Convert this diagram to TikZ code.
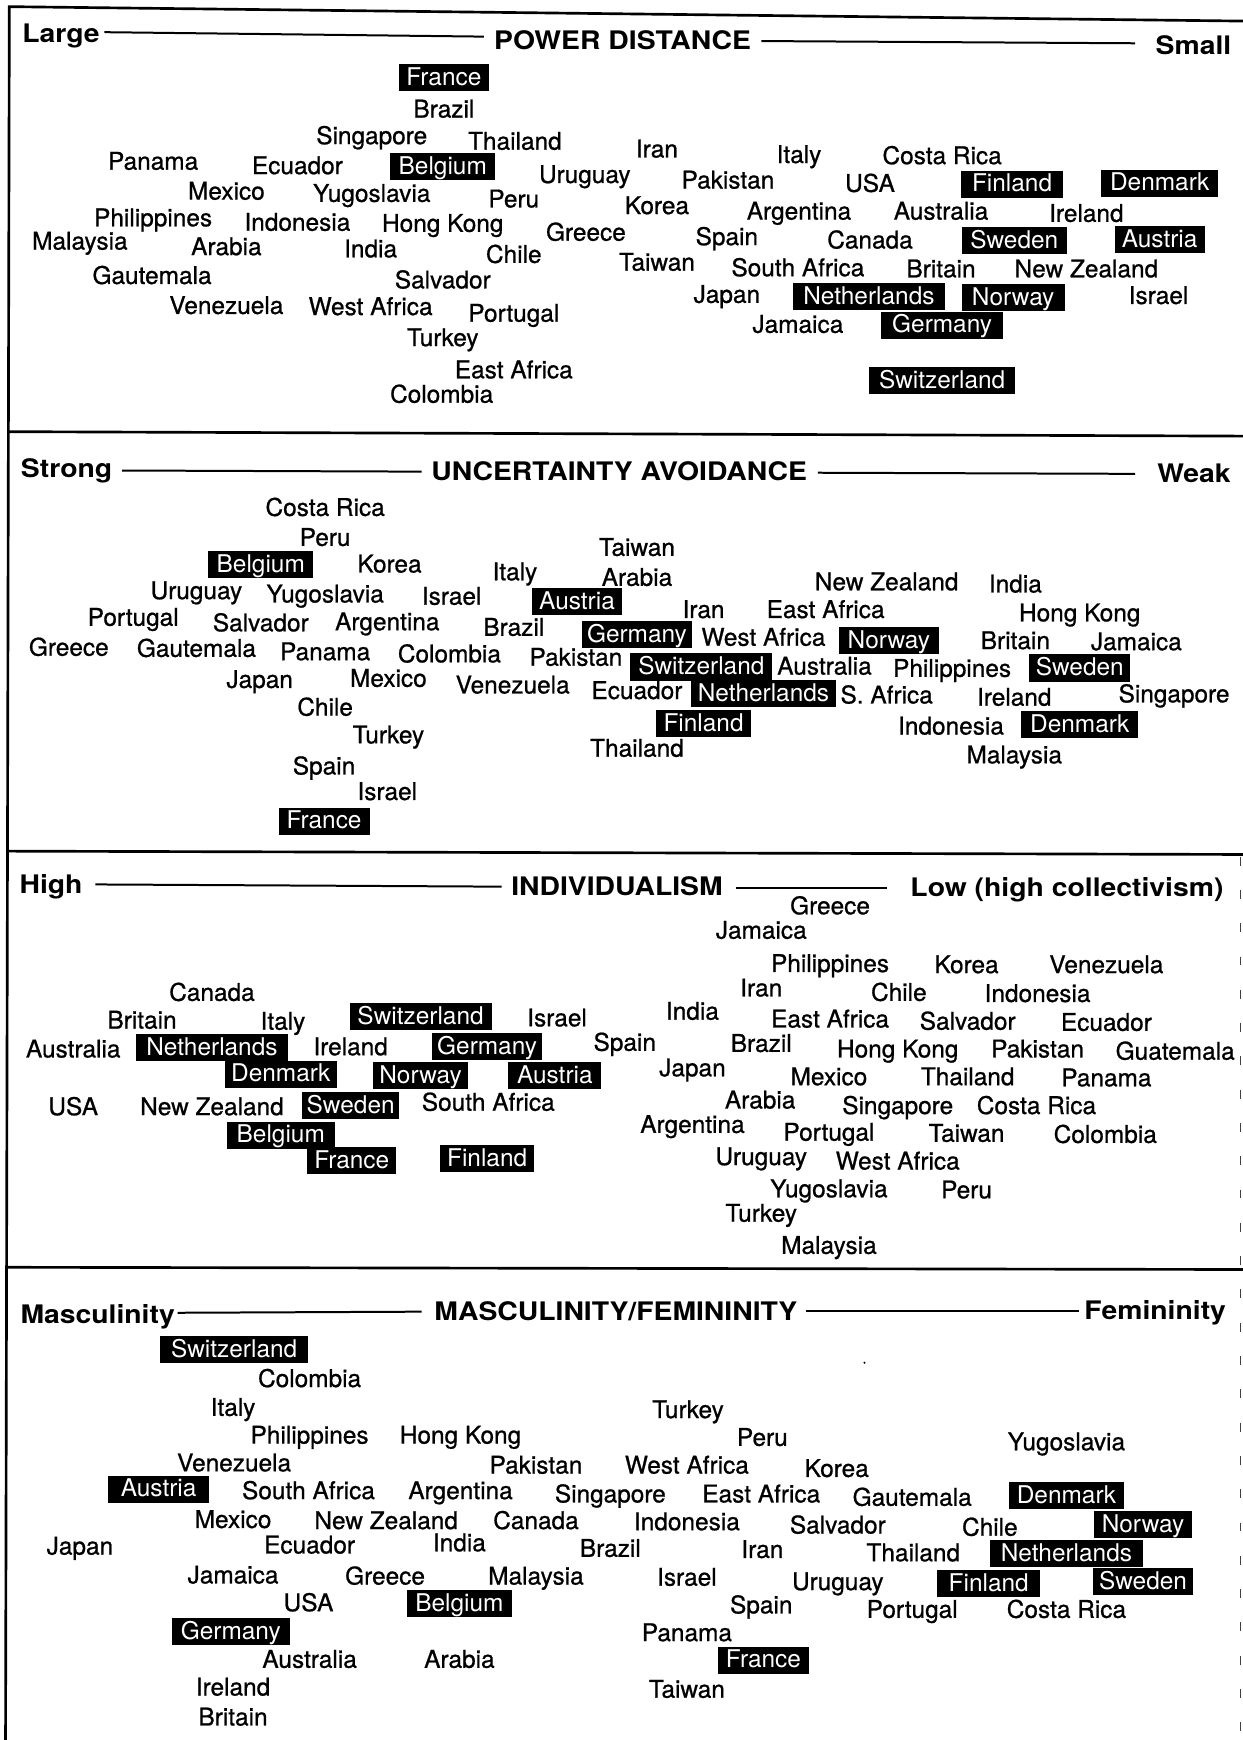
\documentclass[tikz,border=0pt]{standalone}
\usepackage{fontspec}
\setmainfont{TeX Gyre Heros}
\newfontfamily\hdfont{TeX Gyre Heros}[FakeStretch=1.11]
\newfontfamily\lblfont{TeX Gyre Heros}[FakeBold=0.8]
\tikzset{
  lbl/.style={inner sep=0pt, text height=15.8pt, text depth=0pt, font=\lblfont\fontsize{22}{24}\selectfont},
  rev/.style={fill=black, text=white, inner xsep=0pt, inner ysep=1.75pt, text height=17.5pt, text depth=3.5pt, minimum height=24.5pt, font=\fontsize{22}{24}\selectfont},
  hd/.style={inner sep=0pt, text height=16.5pt, text depth=0pt, font=\hdfont\bfseries\fontsize{23}{25}\selectfont},
  titlerule/.style={line width=1.8pt},
  framerule/.style={line width=2.4pt},
}
\newcommand\ctyl[3]{\node[lbl] (#1) at (#2) {#3};}
\newcommand\revb[4]{\node[rev,minimum width=#3pt] (#1) at (#2) {#4};}
\begin{document}
\begin{tikzpicture}[x=1pt,y=-1pt]
\fill[white] (0,0) rectangle (1120,1568);
\useasboundingbox (0,0) rectangle (1120,1568);
% frame
\draw[framerule] (1120,19) -- (8.4,6) -- (5,1568);
\draw[framerule] (8,389) -- (1120,393);
\draw[framerule] (6.5,767) -- (1120,770);
\draw[framerule] (5.5,1142) -- (1120,1144);
\draw[line width=1.2pt, black!75, dash pattern=on 8pt off 22pt] (1118,772) -- (1118,1568);
\fill (779,1228) circle (1pt);
% ---------- Panel 1 ----------
\node[hd] (aL) at (55,30) {Large};
\node[hd] (aT) at (561,36) {POWER DISTANCE};
\node[hd] (aR) at (1075.5,41) {Small};
\coordinate (a1) at (94,29); \coordinate (a2) at (436,33);
\coordinate (a3) at (686,37); \coordinate (a4) at (1023,39);
\draw[titlerule] (a1) -- (a2); \draw[titlerule] (a3) -- (a4);
\revb{aFra}{400,70}{81}{France}
\ctyl{aBra}{400,98}{Brazil}
\ctyl{aSin}{335,122}{Singapore}
\ctyl{aTha}{464,127}{Thailand}
\ctyl{aIra}{592,134}{Iran}
\ctyl{aIta}{720,139}{Italy}
\ctyl{aCos}{849,140}{Costa Rica}
\ctyl{aPan}{138,145}{Panama}
\ctyl{aEcu}{268,149}{Ecuador}
\revb{aBel}{399,150}{95}{Belgium}
\ctyl{aUru}{527,157}{Uruguay}
\ctyl{aPak}{656,162}{Pakistan}
\ctyl{aUSA}{784,165}{USA}
\revb{aFin}{912,166}{92}{Finland}
\revb{aDen}{1045,165}{105}{Denmark}
\ctyl{aMex}{204,172}{Mexico}
\ctyl{aYug}{335,174}{Yugoslavia}
\ctyl{aPer}{463,179}{Peru}
\ctyl{aKor}{592,185}{Korea}
\ctyl{aArg}{720,190}{Argentina}
\ctyl{aAus}{848,190}{Australia}
\ctyl{aIre}{979,192}{Ireland}
\ctyl{aPhi}{138,196}{Philippines}
\ctyl{aIdn}{268,200}{Indonesia}
\ctyl{aHon}{399,201}{Hong Kong}
\ctyl{aGre}{528,209}{Greece}
\ctyl{aSpa}{655,213}{Spain}
\ctyl{aCan}{784,216}{Canada}
\revb{aSwe}{914,217}{95}{Sweden}
\revb{aAut}{1045,216}{81}{Austria}
\ctyl{aMal}{72,217}{Malaysia}
\ctyl{aAra}{204,222}{Arabia}
\ctyl{aInd}{334,224}{India}
\ctyl{aChi}{463,229}{Chile}
\ctyl{aTai}{592,236}{Taiwan}
\ctyl{aSAf}{719,241}{South Africa}
\ctyl{aBri}{848,242}{Britain}
\ctyl{aNZ}{979,242}{New Zealand}
\ctyl{aGau}{137,248}{Gautemala}
\ctyl{aSal}{399,252}{Salvador}
\ctyl{aJap}{655,265}{Japan}
\revb{aNet}{783,267}{137}{Netherlands}
\revb{aNor}{913,268}{93}{Norway}
\ctyl{aIsr}{1044,266}{Israel}
\ctyl{aVen}{204,275}{Venezuela}
\ctyl{aWAf}{334,276}{West Africa}
\ctyl{aPor}{463,282}{Portugal}
\ctyl{aJam}{719,292}{Jamaica}
\revb{aGer}{849,293}{110}{Germany}
\ctyl{aTur}{399,304}{Turkey}
\ctyl{aEAf}{463,333}{East Africa}
\revb{aSwi}{849,343}{131}{Switzerland}
\ctyl{aCol}{398,355}{Colombia}
% ---------- Panel 2 ----------
\node[hd] (bL) at (60,422) {Strong};
\node[hd] (bT) at (558,425) {UNCERTAINTY AVOIDANCE};
\node[hd] (bR) at (1076,427) {Weak};
\coordinate (b1) at (110,424); \coordinate (b2) at (380,425);
\coordinate (b3) at (737,426); \coordinate (b4) at (1023,427);
\draw[titlerule] (b1) -- (b2); \draw[titlerule] (b3) -- (b4);
\ctyl{bCos}{293,457}{Costa Rica}
\ctyl{bPer}{293,484}{Peru}
\ctyl{bTai}{574,493}{Taiwan}
\revb{bBel}{235,509}{95}{Belgium}
\ctyl{bKor}{351,508}{Korea}
\ctyl{bIta}{464,515}{Italy}
\ctyl{bAra}{574,520}{Arabia}
\ctyl{bNZ}{799,524}{New Zealand}
\ctyl{bInd}{915,526}{India}
\ctyl{bUru}{177,532}{Uruguay}
\ctyl{bYug}{293,535}{Yugoslavia}
\ctyl{bIsr}{407,537}{Israel}
\revb{bAut}{520,542}{81}{Austria}
\ctyl{bPor}{120,556}{Portugal}
\ctyl{bSal}{235,561}{Salvador}
\ctyl{bArg}{349,560}{Argentina}
\ctyl{bBra}{463,565}{Brazil}
\ctyl{bIra}{634,549}{Iran}
\ctyl{bEAf}{744,549}{East Africa}
\ctyl{bHon}{973,552}{Hong Kong}
\ctyl{bGre}{62,583}{Greece}
\ctyl{bGau}{177,584}{Gautemala}
\ctyl{bPan}{293,587}{Panama}
\ctyl{bCol}{405,589}{Colombia}
\ctyl{bPak}{519,592}{Pakistan}
\revb{bGer}{574,572}{99}{Germany}
\ctyl{bWAf}{688,574}{West Africa}
\revb{bNor}{801,577}{90}{Norway}
\ctyl{bBri}{915,577}{Britain}
\ctyl{bJam}{1024,578}{Jamaica}
\revb{bSwi}{632,601}{128}{Switzerland}
\ctyl{bAus}{743,600}{Australia}
\ctyl{bPhi}{858,602}{Philippines}
\revb{bSwe}{973,602}{91}{Sweden}
\ctyl{bJap}{234,612}{Japan}
\ctyl{bMex}{350,611}{Mexico}
\ctyl{bVen}{462,617}{Venezuela}
\ctyl{bEcu}{574,622}{Ecuador}
\revb{bNet}{688,625}{131}{Netherlands}
\ctyl{bSAf}{799,626}{S. Africa}
\ctyl{bIre}{914,628}{Ireland}
\ctyl{bSin}{1058,625}{Singapore}
\ctyl{bChi}{293,637}{Chile}
\revb{bFin}{634,652}{85}{Finland}
\ctyl{bIdn}{857,654}{Indonesia}
\revb{bDen}{973,653}{105}{Denmark}
\ctyl{bTur}{350,662}{Turkey}
\ctyl{bTha}{574,674}{Thailand}
\ctyl{bMal}{914,680}{Malaysia}
\ctyl{bSpa}{292,690}{Spain}
\ctyl{bIsr2}{349,713}{Israel}
\revb{bFra}{292,740}{82}{France}
% ---------- Panel 3 ----------
\node[hd] (cL) at (46,797) {High};
\node[hd] (cT) at (556,799) {INDIVIDUALISM};
\node[hd] (cR) at (961.5,800) {Low (high collectivism)};
\coordinate (c1) at (86,797); \coordinate (c2) at (452,799);
\coordinate (c3) at (663,800); \coordinate (c4) at (799,800);
\draw[titlerule] (c1) -- (c2); \draw[titlerule] (c3) -- (c4);
\ctyl{cGre}{748,816}{Greece}
\ctyl{cJam}{686,838}{Jamaica}
\ctyl{cPhi}{748,868}{Philippines}
\ctyl{cKor}{871,869}{Korea}
\ctyl{cVen}{997,869}{Venezuela}
\ctyl{cIra}{686,890}{Iran}
\ctyl{cChi}{810,894}{Chile}
\ctyl{cIdn}{935,895}{Indonesia}
\ctyl{cCan}{191,894}{Canada}
\ctyl{cBri}{128,919}{Britain}
\ctyl{cIta}{255,920}{Italy}
\revb{cSwi}{379,916}{128}{Switzerland}
\ctyl{cIsr}{502,917}{Israel}
\ctyl{cInd}{624,911}{India}
\ctyl{cEAf}{748,918}{East Africa}
\ctyl{cSal}{872,920}{Salvador}
\ctyl{cEcu}{997,921}{Ecuador}
\ctyl{cAus}{66,945}{Australia}
\revb{cNet}{191,944}{137}{Netherlands}
\ctyl{cIre}{316,943}{Ireland}
\revb{cGer}{439,943}{99}{Germany}
\ctyl{cSpa}{563,939}{Spain}
\ctyl{cBra}{686,940}{Brazil}
\ctyl{cHon}{809,945}{Hong Kong}
\ctyl{cPak}{935,945}{Pakistan}
\ctyl{cGua}{1059,947}{Guatemala}
\revb{cDen}{253,968}{101}{Denmark}
\revb{cNor}{379,969}{85}{Norway}
\revb{cAut}{500,969}{84}{Austria}
\ctyl{cJap}{624,962}{Japan}
\ctyl{cMex}{747,970}{Mexico}
\ctyl{cTha}{872,970}{Thailand}
\ctyl{cPan}{997,971}{Panama}
\ctyl{cUSA}{66,997}{USA}
\ctyl{cNZ}{191,997}{New Zealand}
\revb{cSwe}{316,996}{88}{Sweden}
\ctyl{cSAf}{440,993}{South Africa}
\ctyl{cAra}{685,991}{Arabia}
\ctyl{cSin}{809,996}{Singapore}
\ctyl{cCos}{934,996}{Costa Rica}
\revb{cBel}{253,1023}{97}{Belgium}
\ctyl{cArg}{624,1013}{Argentina}
\ctyl{cPor}{747,1020}{Portugal}
\ctyl{cTai}{871,1021}{Taiwan}
\ctyl{cCol}{996,1022}{Colombia}
\revb{cFra}{317,1046}{80}{France}
\revb{cFin}{439,1044}{85}{Finland}
\ctyl{cUru}{686,1042}{Uruguay}
\ctyl{cWAf}{809,1046}{West Africa}
\ctyl{cYug}{747,1071}{Yugoslavia}
\ctyl{cPer}{871,1072}{Peru}
\ctyl{cTur}{686,1093}{Turkey}
\ctyl{cMal}{747,1122}{Malaysia}
% ---------- Panel 4 ----------
\node[hd] (dL) at (88,1184) {Masculinity};
\node[hd] (dT) at (555,1182) {MASCULINITY/FEMININITY};
\node[hd] (dR) at (1041,1181) {Femininity};
\coordinate (d1) at (160,1183); \coordinate (d2) at (380,1182);
\coordinate (d3) at (726,1181); \coordinate (d4) at (972,1181);
\draw[titlerule] (d1) -- (d2); \draw[titlerule] (d3) -- (d4);
\revb{dSwi}{211,1216}{133}{Switzerland}
\ctyl{dCol}{279,1242}{Colombia}
\ctyl{dIta}{210,1268}{Italy}
\ctyl{dTur}{620,1270}{Turkey}
\ctyl{dPhi}{279,1293}{Philippines}
\ctyl{dHon}{415,1293}{Hong Kong}
\ctyl{dPer}{687,1295}{Peru}
\ctyl{dYug}{961,1299}{Yugoslavia}
\ctyl{dVen}{211,1318}{Venezuela}
\ctyl{dPak}{483,1320}{Pakistan}
\ctyl{dWAf}{619,1320}{West Africa}
\ctyl{dKor}{754,1323}{Korea}
\revb{dAut}{143,1342}{91}{Austria}
\ctyl{dSAf}{278,1343}{South Africa}
\ctyl{dArg}{415,1343}{Argentina}
\ctyl{dSin}{550,1346}{Singapore}
\ctyl{dEAf}{686,1346}{East Africa}
\ctyl{dGau}{822,1349}{Gautemala}
\revb{dDen}{961,1348}{104}{Denmark}
\ctyl{dMex}{210,1369}{Mexico}
\ctyl{dNZ}{348,1370}{New Zealand}
\ctyl{dCan}{483,1370}{Canada}
\ctyl{dIdn}{619,1371}{Indonesia}
\ctyl{dSal}{755,1374}{Salvador}
\ctyl{dChi}{892,1376}{Chile}
\revb{dNor}{1030,1374}{88}{Norway}
\ctyl{dJap}{72,1393}{Japan}
\ctyl{dEcu}{279,1392}{Ecuador}
\ctyl{dInd}{414,1390}{India}
\ctyl{dBra}{550,1395}{Brazil}
\ctyl{dIra}{687,1396}{Iran}
\ctyl{dTha}{823,1399}{Thailand}
\revb{dNet}{961,1400}{138}{Netherlands}
\ctyl{dJam}{210,1419}{Jamaica}
\ctyl{dGre}{347,1420}{Greece}
\ctyl{dMal}{483,1420}{Malaysia}
\ctyl{dIsr}{619,1421}{Israel}
\ctyl{dUru}{755,1425}{Uruguay}
\revb{dFin}{891,1427}{93}{Finland}
\revb{dSwe}{1030,1425}{91}{Sweden}
\ctyl{dUSA}{278,1444}{USA}
\revb{dBel}{414,1445}{94}{Belgium}
\ctyl{dSpa}{686,1446}{Spain}
\ctyl{dPor}{822,1450}{Portugal}
\ctyl{dCos}{961,1450}{Costa Rica}
\revb{dGer}{208,1470}{106}{Germany}
\ctyl{dPan}{619,1471}{Panama}
\ctyl{dAus}{279,1495}{Australia}
\ctyl{dAra}{414,1495}{Arabia}
\revb{dFra}{688,1496}{82}{France}
\ctyl{dIre}{210,1520}{Ireland}
\ctyl{dTai}{619,1522}{Taiwan}
\ctyl{dBri}{210,1547}{Britain}
\end{tikzpicture}
\end{document}
